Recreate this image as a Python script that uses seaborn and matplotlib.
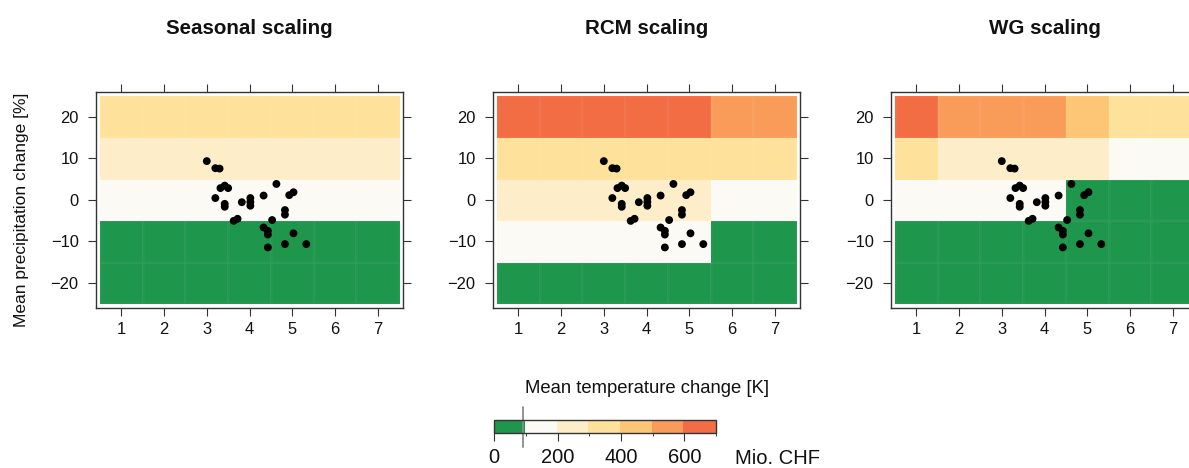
import numpy as np
import matplotlib
matplotlib.use("Agg")
import matplotlib.pyplot as plt
from matplotlib.colors import ListedColormap, BoundaryNorm
import matplotlib as mpl
import seaborn as sns

# ---------------- data ----------------
temp_change = [1, 2, 3, 4, 5, 6, 7]          # K (cell centres, columns)
precip_change = [-20, -10, 0, 10, 20]        # % (cell centres, rows)

panel_titles = ["Seasonal scaling", "RCM scaling", "WG scaling"]

# damage costs [Mio. CHF], rows = precip_change (bottom -> top), cols = temp_change
seasonal_cost = [
    [40, 40, 40, 40, 40, 40, 40],
    [60, 60, 60, 60, 60, 60, 60],
    [150, 150, 150, 150, 150, 150, 150],
    [250, 250, 250, 250, 250, 250, 250],
    [350, 350, 350, 350, 350, 350, 350],
]
rcm_cost = [
    [20, 25, 30, 35, 40, 30, 20],
    [180, 170, 160, 150, 140, 80, 60],
    [280, 270, 260, 250, 240, 180, 160],
    [380, 370, 360, 350, 340, 330, 320],
    [680, 670, 660, 650, 620, 580, 560],
]
wg_cost = [
    [20, 20, 20, 20, 20, 20, 20],
    [60, 55, 50, 45, 40, 35, 30],
    [180, 160, 140, 120, 80, 60, 40],
    [350, 280, 260, 240, 220, 180, 160],
    [640, 590, 570, 550, 470, 380, 360],
]
panel_costs = [seasonal_cost, rcm_cost, wg_cost]

# GCM-RCM scenario points
gcm_dT = [3.00, 3.20, 3.30, 3.32, 3.42, 3.50, 3.20, 3.42, 3.42, 3.82,
          4.02, 4.02, 4.02, 4.33, 4.63, 4.93, 5.03, 4.83, 4.83, 3.63,
          3.72, 4.53, 4.33, 4.43, 4.43, 5.03, 4.83, 5.33, 4.43]
gcm_dP = [9.3, 7.6, 7.5, 2.8, 3.4, 2.8, 0.4, -1.0, -1.7, -0.6,
          0.4, -0.55, -1.45, 1.0, 3.8, 1.1, 1.8, -2.5, -3.6, -5.1,
          -4.6, -4.9, -6.7, -7.5, -8.4, -8.1, -10.7, -10.7, -11.5]

cost_bounds = [0, 100, 200, 300, 400, 500, 600, 700]
cost_colors = ["#1e964c", "#fcfaf4", "#feedc9", "#fee19a",
               "#fdc677", "#f99c5a", "#f26c44"]
cbar_ticks = [0, 200, 400, 600]
threshold = 90

# ---------------- style ----------------
sns.set_style("white")
plt.rcParams["font.family"] = ["Liberation Sans", "DejaVu Sans"]
plt.rcParams["axes.unicode_minus"] = True

W, H = 1189, 468
fig = plt.figure(figsize=(W / 100, H / 100), dpi=100)


def fa(x0, x1, y0, y1):
    return [x0 / W, 1 - y1 / H, (x1 - x0) / W, (y1 - y0) / H]


cmap = ListedColormap(cost_colors)
norm = BoundaryNorm(cost_bounds, cmap.N)

x_edges = np.append(np.array(temp_change) - 0.5, temp_change[-1] + 0.5)
y_edges = np.append(np.array(precip_change) - 5, precip_change[-1] + 5)

frame_col = "#333333"
panel_left = [96, 493, 891]
for i, (title, cost) in enumerate(zip(panel_titles, panel_costs)):
    x0 = panel_left[i]
    ax = fig.add_axes(fa(x0, x0 + 307, 92, 308))
    ax.pcolormesh(x_edges, y_edges, np.array(cost), cmap=cmap, norm=norm,
                  edgecolors=(1, 1, 1, 0.035), linewidth=0.8)
    sns.scatterplot(x=gcm_dT, y=gcm_dP, ax=ax, color="black", s=32,
                    edgecolor="none", linewidth=0, zorder=3, legend=False)
    ax.set_xlim(0.406, 7.594)
    ax.set_ylim(-26.1, 25.96)
    ax.set_xticks(temp_change)
    ax.set_yticks(precip_change)
    ax.set_xlabel("")
    ax.set_ylabel("")
    for sp in ax.spines.values():
        sp.set_visible(True)
        sp.set_color(frame_col)
        sp.set_linewidth(1.0)
    ax.tick_params(axis="both", which="both", direction="out", length=5.5,
                   width=0.8, color=frame_col, top=True, right=True,
                   bottom=True, left=True, labeltop=False, labelright=False,
                   labelsize=11.9, labelcolor="#111111")
    ax.tick_params(axis="x", pad=4.5)
    ax.tick_params(axis="y", pad=7)
    fig.text((x0 + 153.5) / W, 1 - 34 / H, title, ha="center", va="baseline",
             fontsize=14.8, fontweight="bold", color="#111111")

fig.text(21.5 / W, 1 - 210 / H, "Mean precipitation change [%]", rotation=90,
         ha="center", va="center", fontsize=12.5, color="#111111")
fig.text(647 / W, 1 - 393 / H, "Mean temperature change [K]", ha="center",
         va="baseline", fontsize=13.3, color="#111111")

# ---------------- colour key ----------------
cax = fig.add_axes(fa(494.3, 716, 420, 433.3))
cb = mpl.colorbar.ColorbarBase(cax, cmap=cmap, norm=norm,
                               boundaries=cost_bounds,
                               orientation="horizontal", ticks=cbar_ticks)
cb.solids.set_edgecolor("face")
cb.solids.set_antialiased(False)
cb.outline.set_edgecolor(frame_col)
cb.outline.set_linewidth(1.0)
cax.tick_params(axis="x", direction="out", length=6, width=0.8,
                color=frame_col, labelsize=14.5, pad=4.5, labelcolor="#111111")
cax.plot([threshold, threshold], [-1.0, 1.95], color="#8a8a8a",
         linewidth=1.3, clip_on=False, transform=cax.get_xaxis_transform())
fig.text(735 / W, 4 / H, "Mio. CHF", ha="left", va="baseline",
         fontsize=14.5, color="#111111")

fig.savefig("out.png", dpi=100)
